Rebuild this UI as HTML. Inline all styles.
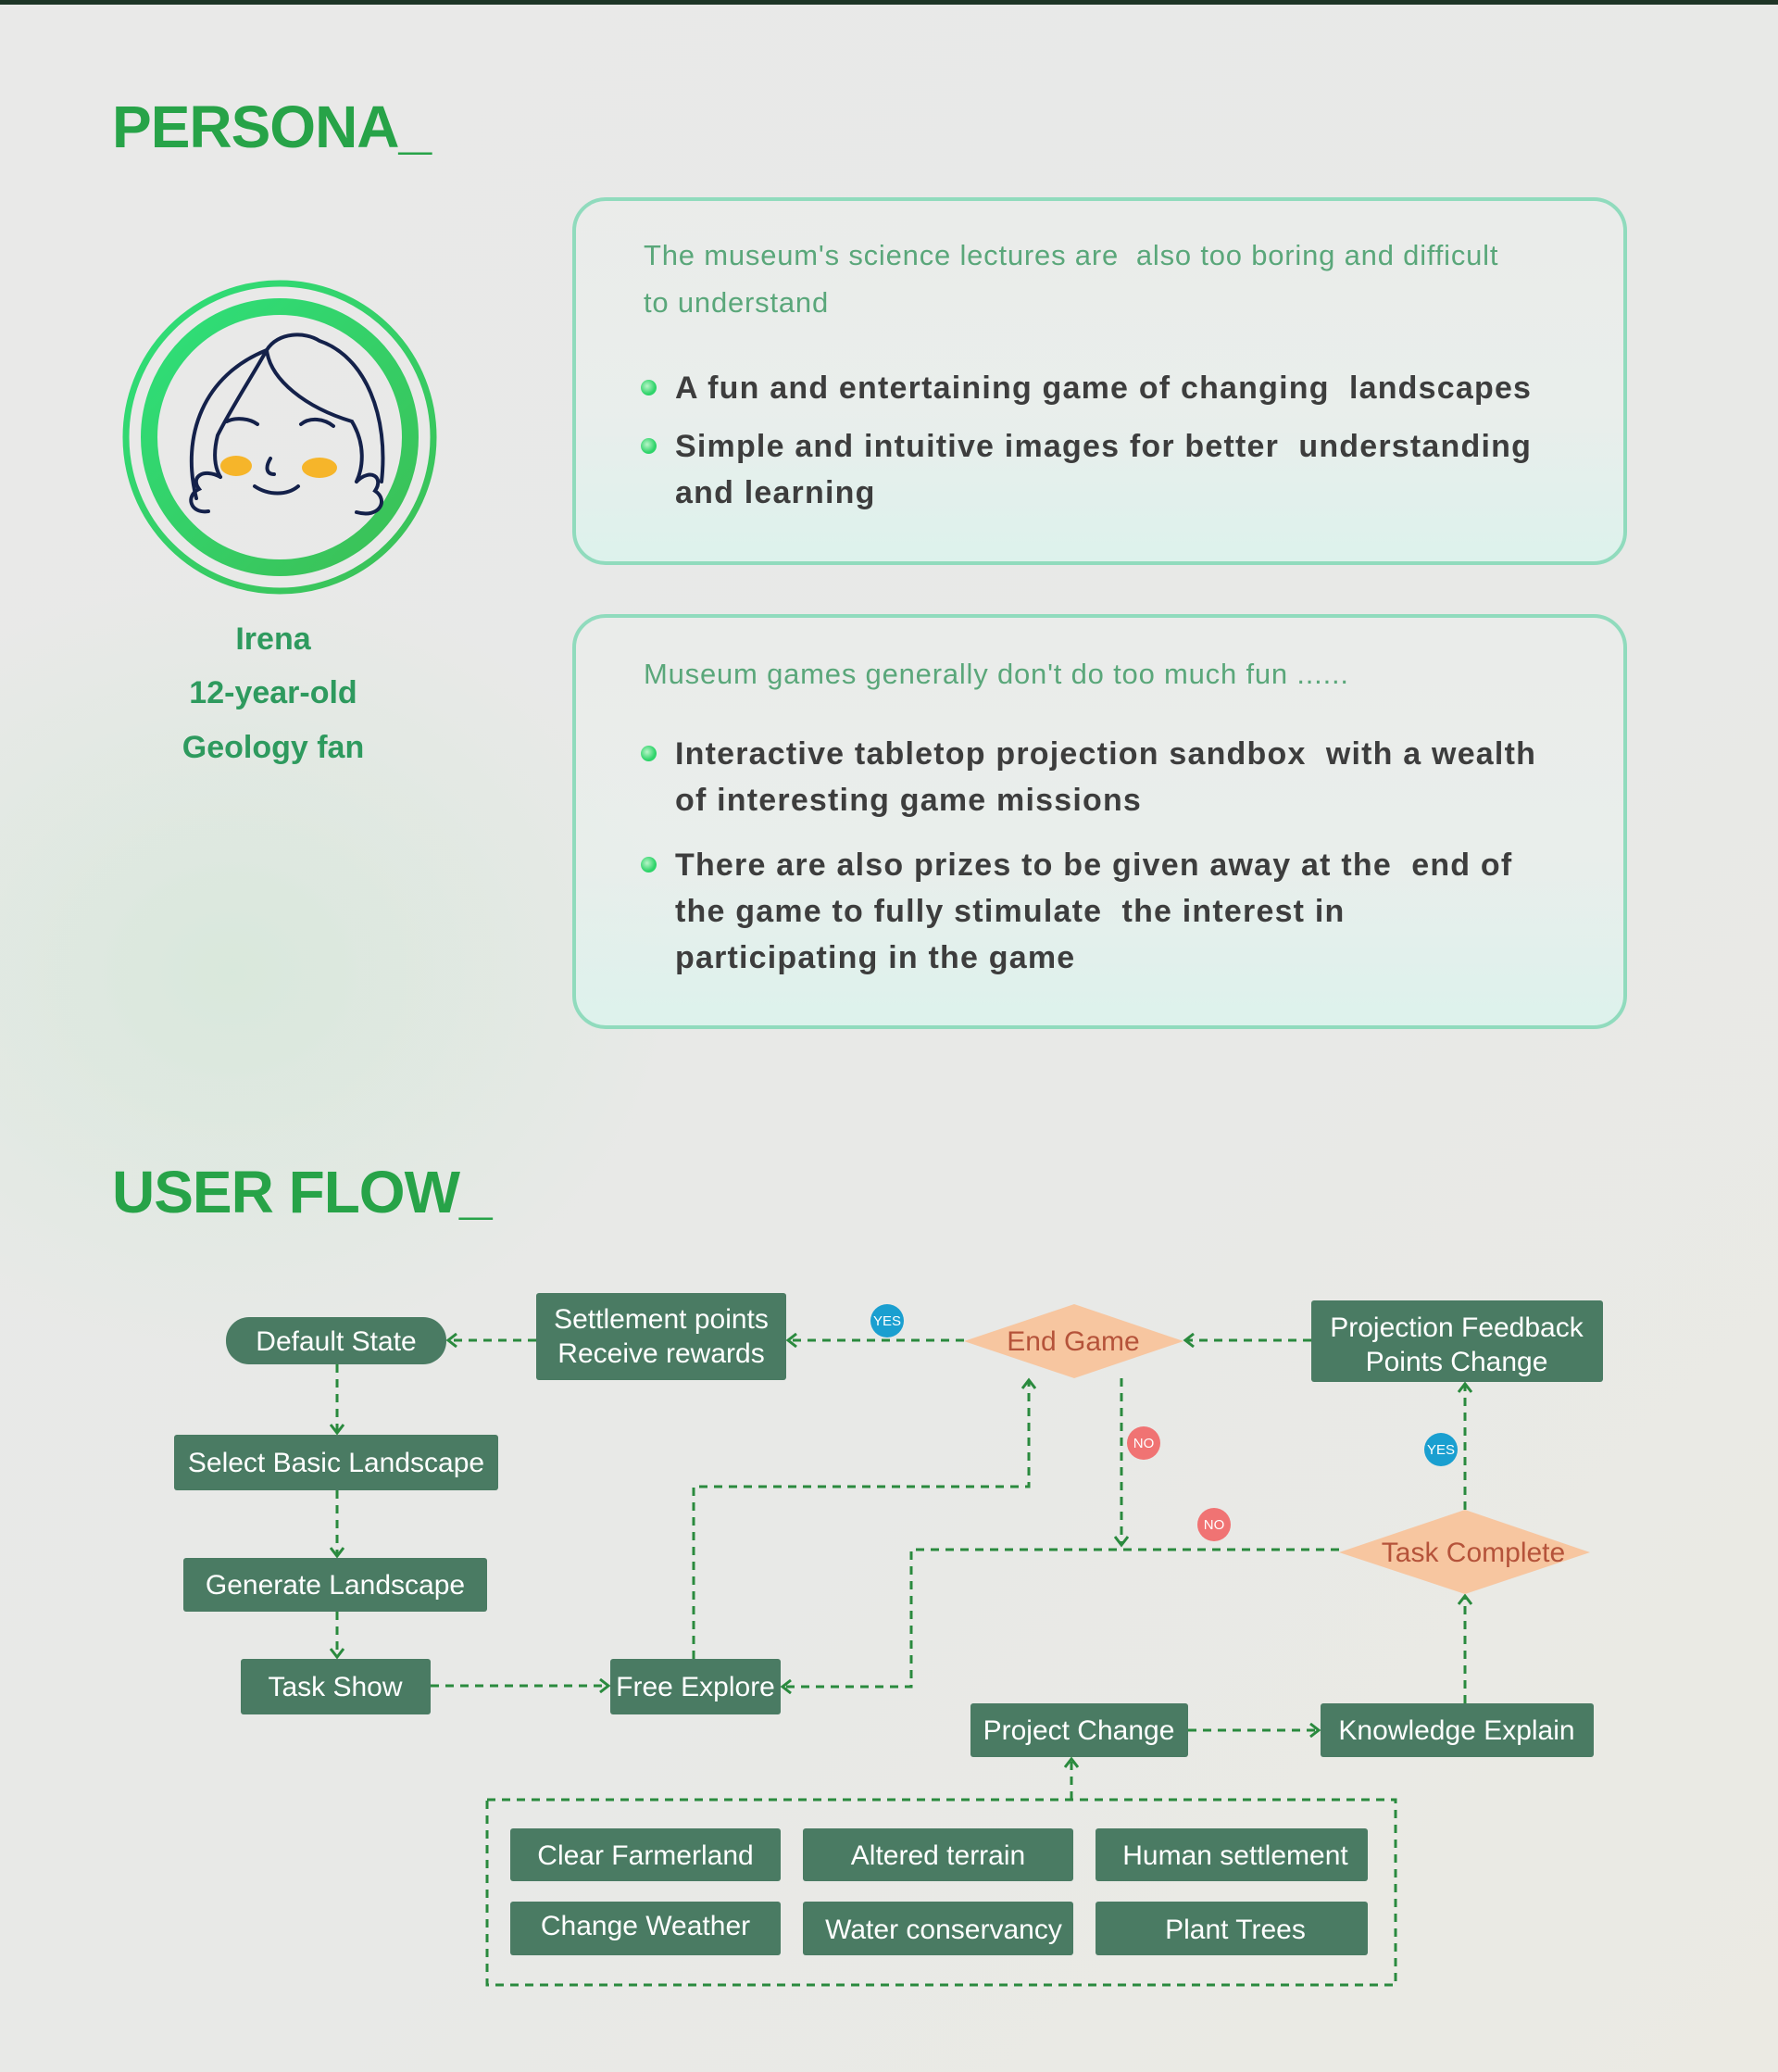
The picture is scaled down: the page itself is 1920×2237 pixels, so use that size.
<!DOCTYPE html>
<html><head><meta charset="utf-8"><style>
*{margin:0;padding:0;box-sizing:border-box}
body{width:1920px;height:2237px;position:relative;overflow:hidden;font-family:"Liberation Sans",sans-serif;
background:radial-gradient(ellipse 700px 600px at 250px 1050px,rgba(210,232,215,0.7),rgba(233,233,231,0) 70%),linear-gradient(135deg,#e9e9e8 0%,#e8e9e7 60%,#ebeae3 100%)}
.topbar{position:absolute;left:0;top:0;width:1920px;height:5px;background:#1d3526}
.title{position:absolute;left:121px;font-weight:bold;font-size:64px;color:#27a348;letter-spacing:-1px}
.name{position:absolute;left:150px;width:290px;text-align:center;font-weight:bold;font-size:34px;color:#2e9a5e}
.box{position:absolute;left:618px;width:1139px;border:4px solid #90dbbd;border-radius:36px;background:linear-gradient(180deg,rgba(236,238,236,0.6) 0%,rgba(233,240,237,0.7) 60%,#ddf2ec 100%)}
.lead{position:absolute;left:695px;font-size:31px;color:#5aa77a;line-height:51px;width:960px;letter-spacing:0.8px}
.bul{position:absolute;left:729px;font-size:34px;font-weight:bold;color:#3d3d3d;line-height:50px;width:942px;letter-spacing:1.2px}
.dot{position:absolute;left:692px;width:17px;height:17px;border-radius:50%;background:radial-gradient(circle at 40% 40%,#b8f5c8,#2fd46a 60%)}
</style></head><body>
<div class="topbar"></div>
<div class="title" style="top:100px">PERSONA_</div>

<svg style="position:absolute;left:0;top:0" width="1920" height="2237">
<defs>
<linearGradient id="rg" x1="0" y1="0" x2="1" y2="1"><stop offset="0" stop-color="#2ee07a"/><stop offset="1" stop-color="#3cbf55"/></linearGradient>
<marker id="ar" markerWidth="16" markerHeight="16" refX="12" refY="8" orient="auto" markerUnits="userSpaceOnUse">
<polyline points="3,1 12,8 3,15" fill="none" stroke="#2a8a3e" stroke-width="3"/></marker>
</defs>
<circle cx="302" cy="472" r="166" fill="none" stroke="url(#rg)" stroke-width="7"/>
<circle cx="302" cy="472" r="141" fill="none" stroke="url(#rg)" stroke-width="18"/>
<g fill="none" stroke="#14214a" stroke-width="4" stroke-linecap="round">
<path d="M212,538 C195,470 220,405 288,378 C300,358 330,358 345,368 C395,385 420,450 412,520"/>
<path d="M288,378 C292,410 330,440 380,455 C395,480 392,505 385,520"/>
<path d="M288,378 C270,410 250,440 235,470 C230,490 232,505 238,515"/>
<path d="M238,515 C220,505 205,515 215,528 C200,535 205,555 225,552"/>
<path d="M385,520 C400,505 415,515 405,530 C420,540 410,560 385,553"/>
<path d="M245,455 C255,450 270,452 278,458"/><path d="M325,458 C335,450 350,452 360,460"/>
<path d="M292,495 C286,505 288,512 296,512"/><path d="M275,525 C290,535 310,535 322,525"/>
</g>
<ellipse cx="255" cy="503" rx="17" ry="11" fill="#f6b52a"/><ellipse cx="345" cy="505" rx="19" ry="11" fill="#f6b52a"/>
</svg>

<div class="name" style="top:671px">Irena</div>
<div class="name" style="top:729px">12-year-old</div>
<div class="name" style="top:788px">Geology fan</div>

<div class="box" style="top:213px;height:397px"></div>
<div class="lead" style="top:250px">The museum's science lectures are&nbsp; also too boring and difficult to understand</div>
<div class="dot" style="top:410px"></div>
<div class="bul" style="top:394px">A fun and entertaining game of changing&nbsp; landscapes</div>
<div class="dot" style="top:473px"></div>
<div class="bul" style="top:457px">Simple and intuitive images for better&nbsp; understanding and learning</div>

<div class="box" style="top:663px;height:448px"></div>
<div class="lead" style="top:702px">Museum games generally don't do too much fun ......</div>
<div class="dot" style="top:805px"></div>
<div class="bul" style="top:789px">Interactive tabletop projection sandbox&nbsp; with a wealth of interesting game missions</div>
<div class="dot" style="top:925px"></div>
<div class="bul" style="top:909px">There are also prizes to be given away at the&nbsp; end of the game to fully stimulate&nbsp; the interest in participating in the game</div>

<div class="title" style="top:1250px">USER FLOW_</div>

<svg style="position:absolute;left:0;top:0" width="1920" height="2237" font-family="Liberation Sans, sans-serif">
<g fill="none" stroke="#2a8a3e" stroke-width="3" stroke-dasharray="9,7">
<line x1="579" y1="1447" x2="484" y2="1447" marker-end="url(#ar)"/>
<line x1="1041" y1="1447" x2="851" y2="1447" marker-end="url(#ar)"/>
<line x1="1416" y1="1447" x2="1280" y2="1447" marker-end="url(#ar)"/>
<line x1="364" y1="1473" x2="364" y2="1547" marker-end="url(#ar)"/>
<line x1="364" y1="1609" x2="364" y2="1680" marker-end="url(#ar)"/>
<line x1="364" y1="1740" x2="364" y2="1789" marker-end="url(#ar)"/>
<line x1="465" y1="1820" x2="657" y2="1820" marker-end="url(#ar)"/>
<polyline points="749,1791 749,1605 1111,1605 1111,1490" marker-end="url(#ar)"/>
<line x1="1211" y1="1488" x2="1211" y2="1668" marker-end="url(#ar)"/>
<polyline points="1446,1673 984,1673 984,1821 845,1821" marker-end="url(#ar)"/>
<line x1="1582" y1="1630" x2="1582" y2="1494" marker-end="url(#ar)"/>
<line x1="1582" y1="1839" x2="1582" y2="1723" marker-end="url(#ar)"/>
<line x1="1283" y1="1868" x2="1424" y2="1868" marker-end="url(#ar)"/>
<line x1="1157" y1="1943" x2="1157" y2="1899" marker-end="url(#ar)"/>
<rect x="526" y="1943" width="981" height="200"/>
</g>
<g fill="#4a7b63">
<rect x="244" y="1422" width="238" height="51" rx="25"/>
<rect x="579" y="1396" width="270" height="94" rx="3"/>
<rect x="1416" y="1404" width="315" height="88" rx="3"/>
<rect x="188" y="1549" width="350" height="60" rx="3"/>
<rect x="198" y="1682" width="328" height="58" rx="3"/>
<rect x="260" y="1791" width="205" height="60" rx="3"/>
<rect x="659" y="1791" width="184" height="60" rx="3"/>
<rect x="1048" y="1839" width="235" height="58" rx="3"/>
<rect x="1426" y="1839" width="295" height="58" rx="3"/>
<rect x="551" y="1974" width="292" height="57" rx="3"/>
<rect x="867" y="1974" width="292" height="57" rx="3"/>
<rect x="1183" y="1974" width="294" height="57" rx="3"/>
<rect x="551" y="2053" width="292" height="58" rx="3"/>
<rect x="867" y="2053" width="292" height="58" rx="3"/>
<rect x="1183" y="2053" width="294" height="58" rx="3"/>
</g>
<polygon points="1041,1448 1160,1408 1278,1448 1160,1488" fill="#f7c6a0"/>
<polygon points="1446,1676 1582,1630 1717,1676 1582,1721" fill="#f7c6a0"/>
<g fill="#fff" font-size="30" text-anchor="middle">
<text x="363" y="1458">Default State</text>
<text x="714" y="1434">Settlement points</text>
<text x="714" y="1471">Receive rewards</text>
<text x="1573" y="1443">Projection Feedback</text>
<text x="1573" y="1480">Points Change</text>
<text x="363" y="1589">Select Basic Landscape</text>
<text x="362" y="1721">Generate Landscape</text>
<text x="362" y="1831">Task Show</text>
<text x="751" y="1831">Free Explore</text>
<text x="1165" y="1878">Project Change</text>
<text x="1573" y="1878">Knowledge Explain</text>
<text x="697" y="2013">Clear Farmerland</text>
<text x="1013" y="2013">Altered terrain</text>
<text x="1334" y="2013">Human settlement</text>
<text x="697" y="2089">Change Weather</text>
<text x="1019" y="2093">Water conservancy</text>
<text x="1334" y="2093">Plant Trees</text>
</g>
<g fill="#b5533a" font-size="30" text-anchor="middle">
<text x="1159" y="1458">End Game</text>
<text x="1591" y="1686">Task Complete</text>
</g>
<circle cx="958" cy="1426" r="18" fill="#1a9fd0"/><circle cx="1556" cy="1565" r="18" fill="#1a9fd0"/>
<circle cx="1235" cy="1558" r="18" fill="#f07373"/><circle cx="1311" cy="1646" r="18" fill="#f07373"/>
<g fill="#fff" font-size="15" text-anchor="middle">
<text x="958" y="1431">YES</text><text x="1556" y="1570">YES</text>
<text x="1235" y="1563">NO</text><text x="1311" y="1651">NO</text>
</g>
</svg>
</body></html>
